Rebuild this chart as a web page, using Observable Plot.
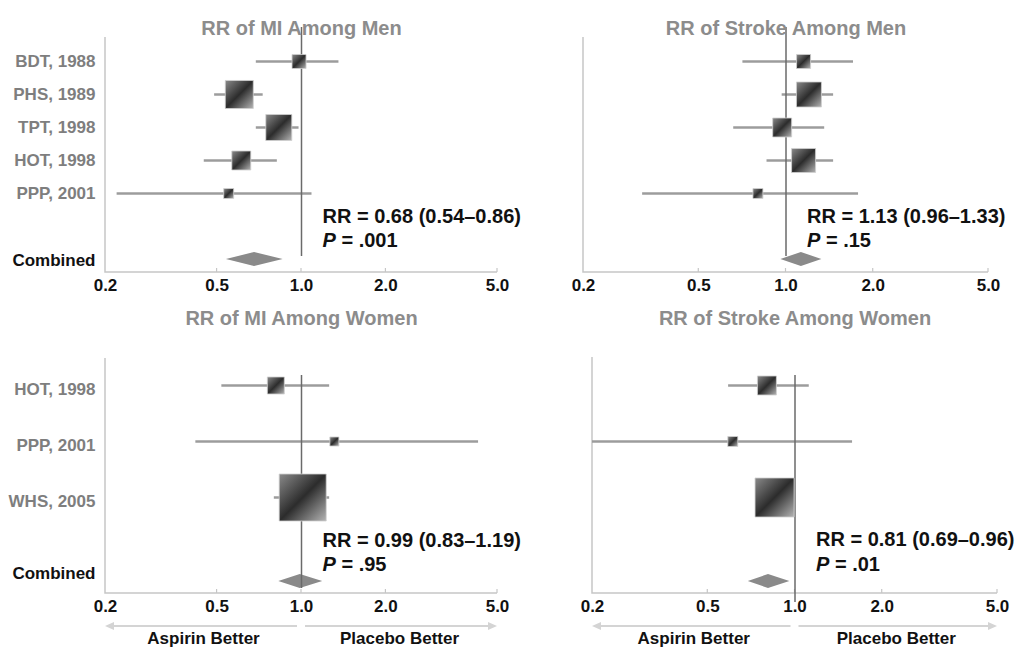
<!DOCTYPE html>
<html><head><meta charset="utf-8">
<script src="https://cdn.jsdelivr.net/npm/d3@7"></script>
<script src="https://cdn.jsdelivr.net/npm/@observablehq/plot@0.6"></script>
<style>
body{margin:0;background:#fff;}
#chart{position:relative;width:1025px;height:653px;overflow:hidden;background:#fff;}
#chart svg{position:absolute;}
</style></head><body><div id="chart"></div>
<script>
// ---------- data ----------
const ticks = [0.2, 0.5, 1.0, 2.0, 5.0];
const refValue = 1.0;
const combinedLabel = "Combined";
const arrowLabels = ["Aspirin Better", "Placebo Better"];
const titles = ["RR of MI Among Men", "RR of Stroke Among Men", "RR of MI Among Women", "RR of Stroke Among Women"];

const menStudies = ["BDT, 1988", "PHS, 1989", "TPT, 1998", "HOT, 1998", "PPP, 2001"];
const womenStudies = ["HOT, 1998", "PPP, 2001", "WHS, 2005"];

// MI among men
const miMenRR = [0.98, 0.60, 0.83, 0.61, 0.55];
const miMenLo = [0.69, 0.49, 0.69, 0.45, 0.22];
const miMenHi = [1.36, 0.73, 0.98, 0.82, 1.09];
const miMenWeight = [8.9, 35.5, 30.6, 16.3, 4.5];
const miMenSummary = [0.68, 0.54, 0.86];
const miMenP = ".001";

// Stroke among men
const strokeMenRR = [1.15, 1.20, 0.97, 1.15, 0.80];
const strokeMenLo = [0.71, 0.97, 0.66, 0.86, 0.32];
const strokeMenHi = [1.71, 1.46, 1.36, 1.46, 1.78];
const strokeMenWeight = [8.9, 28.3, 16.3, 26.1, 4.5];
const strokeMenSummary = [1.13, 0.96, 1.33];
const strokeMenP = ".15";

// MI among women
const miWomenRR = [0.81, 1.31, 1.01];
const miWomenLo = [0.52, 0.42, 0.80];
const miWomenHi = [1.26, 4.28, 1.26];
const miWomenWeight = [13.1, 3.7, 100];
const miWomenSummary = [0.99, 0.83, 1.19];
const miWomenP = ".95";

// Stroke among women
const strokeWomenRR = [0.80, 0.61, 0.85];
const strokeWomenLo = [0.59, 0.20, 0.76];
const strokeWomenHi = [1.12, 1.58, 0.99];
const strokeWomenWeight = [16.3, 4.5, 68.9];
const strokeWomenSummary = [0.81, 0.69, 0.96];
const strokeWomenP = ".01";

// ---------- drawing ----------
const FONT = "'Liberation Sans', Arial, Helvetica, sans-serif";
const fmt = d3.format(".1f");

function panel(cfg) {
  const rows = cfg.studies.map((s, i) => ({study: s, rr: cfg.rr[i], lo: cfg.lo[i], hi: cfg.hi[i], w: cfg.w[i]}));
  const [srr, slo, shi] = cfg.summary;
  const gradId = "sq-" + cfg.id;
  const pText = `P = ${cfg.p}`;

  const marks = [
    () => {
      const defs = d3.create("svg:defs");
      const lg = defs.append("linearGradient").attr("id", gradId)
        .attr("x1", 0).attr("y1", 0).attr("x2", 1).attr("y2", 1);
      lg.append("stop").attr("offset", "0%").attr("stop-color", "#8a8a8a");
      lg.append("stop").attr("offset", "50%").attr("stop-color", "#2c2c2c");
      lg.append("stop").attr("offset", "100%").attr("stop-color", "#b4b4b4");
      return defs.node();
    },
    // axis frame (left + bottom) with small inward ticks
    (index, scales, values, dims) => {
      const x = scales.x;
      const {width, height, marginLeft, marginRight, marginTop, marginBottom} = dims;
      const bottom = height - marginBottom;
      const g = d3.create("svg:g").attr("stroke", "#c6c6c6").attr("fill", "none");
      g.append("path")
        .attr("d", `M${marginLeft},${marginTop + cfg.axisTopInset}V${bottom}H${width - marginRight}`)
        .attr("stroke-width", 1.5);
      for (const t of ticks.slice(1)) {
        g.append("line").attr("x1", x(t)).attr("x2", x(t))
          .attr("y1", bottom).attr("y2", bottom - 4).attr("stroke-width", 1.2);
      }
      return g.node();
    },
    Plot.ruleY(rows, {y: "study", x1: "lo", x2: "hi", stroke: "#9c9c9c", strokeWidth: 2.5}),
    // summary diamond
    (index, scales) => {
      const x = scales.x, y = scales.y;
      const cy = y(combinedLabel);
      return d3.create("svg:path")
        .attr("d", `M${x(slo)},${cy}L${x(srr)},${cy - 7}L${x(shi)},${cy}L${x(srr)},${cy + 7}Z`)
        .attr("fill", "#8a8a8a").node();
    },
    Plot.ruleX([refValue], {stroke: "#6a6a6a", strokeWidth: 1.5, insetTop: cfg.refInsetTop, insetBottom: cfg.refInsetBottom}),
    Plot.dot(rows, {x: "rr", y: "study", r: "w", symbol: "square", fill: `url(#${gradId})`, stroke: "#cfcfcf", strokeWidth: 0.8}),
    Plot.text(ticks, {x: d => d, text: d => fmt(d), frameAnchor: "bottom", dy: 18, fontSize: 17, fontWeight: "bold", fill: "#111"}),
    Plot.text([cfg.title], {x: () => refValue, frameAnchor: "top", dy: cfg.titleDy, fontSize: 20, fontWeight: "bold", fill: "#8c8c8c"}),
    Plot.text([`RR = ${srr.toFixed(2)} (${slo.toFixed(2)}\u2013${shi.toFixed(2)})`],
      {x: () => refValue, y: () => combinedLabel, dx: 21, dy: cfg.annDy[0], textAnchor: "start", fontSize: 20, fontWeight: "bold", fill: "#111"}),
    Plot.text([pText],
      {x: () => refValue, y: () => combinedLabel, dx: 21, dy: cfg.annDy[1], textAnchor: "start", fontSize: 20, fontWeight: "bold", fill: "#111"})
  ];

  if (cfg.labels) {
    marks.push(Plot.text(cfg.studies, {x: () => ticks[0], y: d => d, dx: -10, dy: cfg.labelDy, textAnchor: "end", fontSize: 17, fontWeight: "bold", fill: "#7e7e7e"}));
    marks.push(Plot.text([combinedLabel], {x: () => ticks[0], y: d => d, dx: -10, dy: cfg.combinedDy, textAnchor: "end", fontSize: 17, fontWeight: "bold", fill: "#111"}));
  }

  if (cfg.arrows) {
    marks.push((index, scales, values, dims) => {
      const x = scales.x;
      const yA = dims.height - dims.marginBottom + 33;
      const g = d3.create("svg:g");
      const segs = [[x(refValue) - 4, x(ticks[0])], [x(refValue) + 4, x(ticks[ticks.length - 1])]];
      for (const [a, b] of segs) {
        const dir = Math.sign(b - a);
        g.append("line").attr("x1", a).attr("x2", b - dir * 6).attr("y1", yA).attr("y2", yA)
          .attr("stroke", "#d4d4d4").attr("stroke-width", 2);
        g.append("path").attr("d", `M${b},${yA}L${b - dir * 9},${yA - 4}L${b - dir * 9},${yA + 4}Z`)
          .attr("fill", "#d4d4d4");
      }
      return g.node();
    });
    marks.push(Plot.text(arrowLabels, {
      x: (d, i) => i === 0 ? Math.sqrt(ticks[0] * refValue) : Math.sqrt(refValue * ticks[ticks.length - 1]),
      frameAnchor: "bottom", dy: 50, fontSize: 17, fontWeight: "bold", fill: "#111"
    }));
  }

  const svg = Plot.plot({
    width: cfg.width, height: cfg.height,
    marginLeft: cfg.marginLeft, marginRight: cfg.marginRight,
    marginTop: cfg.marginTop, marginBottom: cfg.marginBottom,
    style: {fontFamily: FONT, background: "transparent", overflow: "visible", color: "#111"},
    x: {type: "log", domain: [ticks[0], ticks[ticks.length - 1]], axis: null},
    y: {type: "point", domain: cfg.domain, padding: 0, insetTop: cfg.yInsetTop, insetBottom: cfg.yInsetBottom, axis: null},
    r: {type: "sqrt", domain: [0, 100], range: [0, 47 / Math.sqrt(Math.PI)]},
    marks
  });

  // italic P in the p-value line
  d3.select(svg).selectAll("text").each(function () {
    if (this.textContent === pText) {
      const t = d3.select(this);
      t.text(null);
      t.append("tspan").attr("font-style", "italic").text("P");
      t.append("tspan").text(" = " + cfg.p);
    }
  });

  svg.style.left = cfg.left + "px";
  svg.style.top = cfg.top + "px";
  document.getElementById("chart").appendChild(svg);
}

const topDomain = [...menStudies, "\u2009gap", combinedLabel];
const bottomDomain = [womenStudies[0], "\u2009gap1", womenStudies[1], "\u2009gap2", womenStudies[2], "\u2009gap3", "\u2009gap4", combinedLabel];

const topLayout = {top: 0, height: 300, marginTop: 27, marginBottom: 28, yInsetTop: 34, yInsetBottom: 13,
  refInsetTop: 0, refInsetBottom: 16, axisTopInset: 10, titleDy: -6.5, annDy: [-43, -19], labelDy: 0, combinedDy: 1, arrows: false};
const bottomLayout = {top: 300, height: 353, marginTop: 58, marginBottom: 60, yInsetTop: 27, yInsetBottom: 12,
  refInsetTop: 17, refInsetBottom: 5, axisTopInset: 0, titleDy: -48, annDy: [-41, -17], labelDy: 4, combinedDy: -8, arrows: true};

panel({...topLayout, id: "a", left: 0, width: 540, marginLeft: 105, marginRight: 43, labels: true,
  title: titles[0], studies: menStudies, domain: topDomain,
  rr: miMenRR, lo: miMenLo, hi: miMenHi, w: miMenWeight, summary: miMenSummary, p: miMenP});
panel({...topLayout, id: "b", left: 540, width: 485, marginLeft: 43, marginRight: 37, labels: false,
  title: titles[1], studies: menStudies, domain: topDomain,
  rr: strokeMenRR, lo: strokeMenLo, hi: strokeMenHi, w: strokeMenWeight, summary: strokeMenSummary, p: strokeMenP});
panel({...bottomLayout, id: "c", left: 0, width: 540, marginLeft: 105, marginRight: 43, labels: true,
  title: titles[2], studies: womenStudies, domain: bottomDomain,
  rr: miWomenRR, lo: miWomenLo, hi: miWomenHi, w: miWomenWeight, summary: miWomenSummary, p: miWomenP});
panel({...bottomLayout, id: "d", left: 540, width: 485, marginLeft: 52, marginRight: 28, marginTop: 57, yInsetTop: 28,
  refInsetTop: 18, refInsetBottom: -9, titleDy: -47, annDy: [-42, -17], labels: false,
  title: titles[3], studies: womenStudies, domain: bottomDomain,
  rr: strokeWomenRR, lo: strokeWomenLo, hi: strokeWomenHi, w: strokeWomenWeight, summary: strokeWomenSummary, p: strokeWomenP});
</script>
</body></html>
